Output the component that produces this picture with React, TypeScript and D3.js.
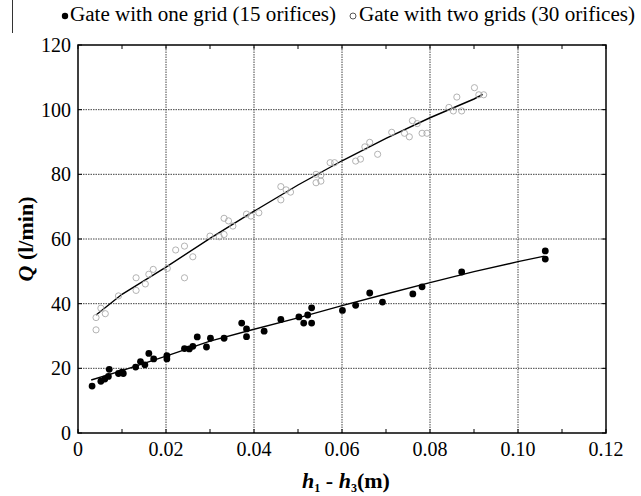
import React from 'react';
import * as d3 from 'd3';

// gate with one grid (15 orifices) - filled dots
const oneGridDh = [
  0.0032, 0.0052, 0.0061, 0.0069, 0.0071, 0.0092, 0.0100, 0.0103, 0.0131, 0.0142,
  0.0152, 0.0161, 0.0172, 0.0202, 0.0202, 0.0242, 0.0253, 0.0261, 0.0271, 0.0292,
  0.0301, 0.0332, 0.0372, 0.0383, 0.0383, 0.0423, 0.0461, 0.0502, 0.0513, 0.0522,
  0.0531, 0.0531, 0.0601, 0.0631, 0.0663, 0.0692, 0.0761, 0.0782, 0.0872, 0.1062,
  0.1062,
];
const oneGridQ = [
  14.5, 16.0, 16.7, 17.5, 19.7, 18.4, 18.8, 18.4, 20.4, 22.1,
  21.1, 24.6, 22.9, 23.9, 22.9, 26.1, 26.0, 26.8, 29.7, 26.6,
  29.3, 29.3, 34.0, 32.2, 29.8, 31.5, 35.1, 35.9, 34.0, 36.5,
  38.7, 34.0, 37.9, 39.5, 43.3, 40.5, 43.0, 45.2, 49.8, 56.3,
  53.8,
];

// gate with two grids (30 orifices) - open circles
const twoGridDh = [
  0.0041, 0.0041, 0.0052, 0.0062, 0.0092, 0.0132, 0.0132, 0.0153, 0.0161, 0.0171,
  0.0203, 0.0222, 0.0242, 0.0242, 0.0261, 0.0300, 0.0321, 0.0332, 0.0332, 0.0342,
  0.0352, 0.0383, 0.0393, 0.0411, 0.0461, 0.0461, 0.0473, 0.0483, 0.0541, 0.0552,
  0.0541, 0.0552, 0.0573, 0.0583, 0.0631, 0.0642, 0.0652, 0.0663, 0.0681, 0.0713,
  0.0742, 0.0753, 0.0760, 0.0771, 0.0782, 0.0793, 0.0843, 0.0853, 0.0861, 0.0872,
  0.0901, 0.0911, 0.0922,
];
const twoGridQ = [
  35.7, 31.9, 38.6, 36.9, 42.4, 48.0, 44.1, 46.1, 49.1, 50.6,
  50.9, 56.6, 57.8, 48.0, 54.5, 60.9, 60.7, 61.4, 66.4, 65.6,
  64.0, 67.7, 67.1, 68.1, 76.2, 72.1, 75.2, 74.5, 80.0, 79.8,
  77.4, 77.9, 83.6, 83.6, 84.1, 84.7, 88.5, 89.9, 86.2, 93.0,
  92.7, 91.6, 96.6, 95.7, 92.7, 92.7, 100.7, 99.6, 103.9, 99.6,
  106.8, 104.6, 104.6,
];

// fitted curves
const oneGridFitDh = [0.003, 0.01, 0.02, 0.03, 0.04, 0.05, 0.06, 0.07, 0.08, 0.09, 0.10, 0.106];
const oneGridFitQ = [16.4, 19.3, 23.8, 28.4, 32.1, 35.6, 39.4, 43.0, 46.5, 49.9, 53.0, 54.7];
const twoGridFitDh = [0.0041, 0.01, 0.02, 0.03, 0.04, 0.05, 0.06, 0.07, 0.08, 0.09, 0.092];
const twoGridFitQ = [36.5, 42.9, 51.3, 60.2, 68.6, 76.7, 84.2, 91.1, 97.5, 103.3, 104.7];

const xTicks = [0, 0.02, 0.04, 0.06, 0.08, 0.1, 0.12];
const xTickLabels = ['0', '0.02', '0.04', '0.06', '0.08', '0.10', '0.12'];
const xMinorTicks = [0.01, 0.03, 0.05, 0.07, 0.09, 0.11];
const yTicks = [0, 20, 40, 60, 80, 100, 120];

const W = 641, H = 496;
const margin = { left: 78, right: 35, top: 45, bottom: 63 };
const serif = { fontFamily: '"Liberation Serif", "Times New Roman", "DejaVu Serif", serif' };

const App = () => {
  const x = d3.scaleLinear().domain([0, 0.12]).range([margin.left, W - margin.right]);
  const y = d3.scaleLinear().domain([0, 120]).range([H - margin.bottom, margin.top]);
  const [x0, x1] = x.range();
  const [y0, y1] = y.range();

  const line = d3.line<[number, number]>().x(d => x(d[0])).y(d => y(d[1]));
  const fitOne = line(oneGridFitDh.map((d, i) => [d, oneGridFitQ[i]]));
  const fitTwo = line(twoGridFitDh.map((d, i) => [d, twoGridFitQ[i]]));

  return (
    <div style={{ position: 'absolute', left: 0, top: 0 }}>
      <svg width={W} height={H} style={{ display: 'block', background: '#fff', ...serif }}>
        {/* stray edge from the scan */}
        <line x1={12.5} x2={12.5} y1={0} y2={33} stroke="#333" strokeWidth={1} />

        {/* legend */}
        <circle cx={65} cy={16} r={3.2} fill="#000" />
        <text x={70} y={21} fontSize={20} textLength={266} lengthAdjust="spacingAndGlyphs" style={serif}>
          Gate with one grid (15 orifices)
        </text>
        <circle cx={353} cy={16} r={3} fill="none" stroke="#444" strokeWidth={0.9} />
        <text x={359} y={21} fontSize={20} textLength={276} lengthAdjust="spacingAndGlyphs" style={serif}>
          Gate with two grids (30 orifices)
        </text>

        {/* grid */}
        {xTicks.slice(1, -1).map(t => (
          <line key={'gx' + t} x1={x(t)} x2={x(t)} y1={y0} y2={y1}
            stroke="#444" strokeWidth={1} strokeDasharray="1.5,1" />
        ))}
        {yTicks.slice(1, -1).map(t => (
          <line key={'gy' + t} x1={x0} x2={x1} y1={y(t)} y2={y(t)}
            stroke="#444" strokeWidth={1} strokeDasharray="1.5,1" />
        ))}

        {/* ticks, inward on every side */}
        {xTicks.concat(xMinorTicks).map(t => (
          <g key={'tx' + t}>
            <line x1={x(t)} x2={x(t)} y1={y0} y2={y0 - 4} stroke="#000" />
            <line x1={x(t)} x2={x(t)} y1={y1} y2={y1 + 4} stroke="#000" />
          </g>
        ))}
        {yTicks.map(t => (
          <g key={'ty' + t}>
            <line x1={x0} x2={x0 + 4} y1={y(t)} y2={y(t)} stroke="#000" />
            <line x1={x1} x2={x1 - 4} y1={y(t)} y2={y(t)} stroke="#000" />
          </g>
        ))}

        <rect x={x0} y={y1} width={x1 - x0} height={y0 - y1} fill="none" stroke="#000" strokeWidth={1.5} />

        {/* tick labels */}
        {xTicks.map((t, i) => (
          <text key={'lx' + t} x={x(t)} y={y0 + 23} fontSize={20} textAnchor="middle" style={serif}>{xTickLabels[i]}</text>
        ))}
        {yTicks.map(t => (
          <text key={'ly' + t} x={x0 - 7} y={y(t) + 7} fontSize={20} textAnchor="end" style={serif}>{t}</text>
        ))}

        {/* fitted curves */}
        <path d={fitTwo ?? ''} fill="none" stroke="#000" strokeWidth={1.4} />
        <path d={fitOne ?? ''} fill="none" stroke="#000" strokeWidth={1.4} />

        {/* data */}
        {twoGridDh.map((d, i) => (
          <circle key={'o' + i} cx={x(d)} cy={y(twoGridQ[i])} r={3.1} fill="none" stroke="#aaa" strokeWidth={0.9} />
        ))}
        {oneGridDh.map((d, i) => (
          <circle key={'b' + i} cx={x(d)} cy={y(oneGridQ[i])} r={3.4} fill="#000" />
        ))}

        {/* axis titles */}
        <text x={346} y={488} fontSize={22} fontWeight="bold" textAnchor="middle" style={serif}>
          <tspan fontStyle="italic">h</tspan>
          <tspan fontSize={12} dy={4}>1</tspan>
          <tspan dy={-4}> - </tspan>
          <tspan fontStyle="italic">h</tspan>
          <tspan fontSize={12} dy={4}>3</tspan>
          <tspan dy={-4}>(m)</tspan>
        </text>
        <text transform={`translate(33,${(y0 + y1) / 2}) rotate(-90)`} fontSize={22} fontWeight="bold" textAnchor="middle" style={serif}>
          <tspan fontStyle="italic">Q</tspan> (l/min)
        </text>
      </svg>
    </div>
  );
};

export default App;
